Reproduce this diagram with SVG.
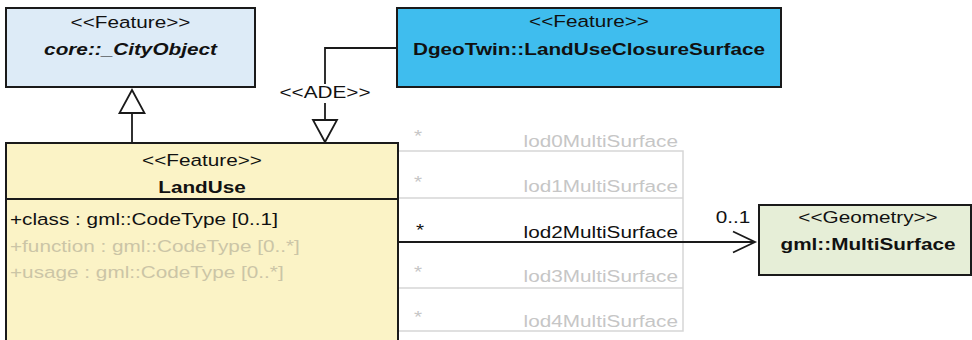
<svg xmlns="http://www.w3.org/2000/svg" width="972" height="340" viewBox="0 0 972 340">
  <style>
    text { font-family: "Liberation Sans", Arial, sans-serif; font-size: 17px; fill: #111; }
    .c { text-anchor: middle; }
    .e { text-anchor: end; }
    .b { font-weight: bold; }
    .bi { font-weight: bold; font-style: italic; }
    .dim { fill: #c6c6c6; }
    .dimy { fill: #cbc5a6; }
    .box { stroke: #1a1a1a; stroke-width: 2; }
    .edge { fill: none; stroke: #1a1a1a; stroke-width: 1.8; }
    .faint { fill: none; stroke: #d6d6d6; stroke-width: 1.5; }
  </style>
  <rect width="972" height="340" fill="#ffffff"/>

  <g id="connectors">
    <!-- generalization LandUse -> core::_CityObject -->
    <line class="edge" x1="132" y1="113" x2="132" y2="143"/>
    <polygon class="edge" fill="#ffffff" points="132,90 119.5,113 144.5,113"/>
    <!-- ADE extension -->
    <polyline class="edge" points="397,48 325,48 325,84"/>
    <line class="edge" x1="325" y1="103" x2="325" y2="120"/>
    <polygon class="edge" fill="#ffffff" points="313,120 337,120 325,142"/>
    <text class="c" transform="translate(325 98) scale(1.22 1)">&lt;&lt;ADE&gt;&gt;</text>
    <!-- inactive geometry associations -->
    <polyline class="faint" points="399,151 683,151 683,331 399,331"/>
    <line class="faint" x1="399" y1="198" x2="683" y2="198"/>
    <line class="faint" x1="399" y1="288" x2="683" y2="288"/>
    <text class="c dim" transform="translate(418 142) scale(1.22 1)">*</text>
    <text class="e dim" transform="translate(678 147) scale(1.22 1)">lod0MultiSurface</text>
    <text class="c dim" transform="translate(418 188) scale(1.22 1)">*</text>
    <text class="e dim" transform="translate(678 192) scale(1.22 1)">lod1MultiSurface</text>
    <text class="c dim" transform="translate(418 278) scale(1.22 1)">*</text>
    <text class="e dim" transform="translate(678 282) scale(1.22 1)">lod3MultiSurface</text>
    <text class="c dim" transform="translate(418 323) scale(1.22 1)">*</text>
    <text class="e dim" transform="translate(678 327) scale(1.22 1)">lod4MultiSurface</text>
    <!-- lod2 association -->
    <line class="edge" x1="399" y1="242" x2="755" y2="242"/>
    <polyline class="edge" points="733,231.5 755,242 733,252.5"/>
    <text class="c" transform="translate(420 236) scale(1.22 1)">*</text>
    <text class="e" transform="translate(678 238) scale(1.22 1)">lod2MultiSurface</text>
    <text class="c" transform="translate(733 223) scale(1.22 1)">0..1</text>
  </g>

  <g id="cityobject">
    <rect class="box" x="6" y="8" width="249" height="79" fill="#ddebf7"/>
    <text class="c" transform="translate(130.5 28) scale(1.22 1)">&lt;&lt;Feature&gt;&gt;</text>
    <text class="c bi" transform="translate(130.5 55) scale(1.22 1)">core::_CityObject</text>
  </g>

  <g id="closuresurface">
    <rect class="box" x="397" y="8" width="384" height="79" fill="#3fbdee"/>
    <text class="c" transform="translate(589 27) scale(1.22 1)">&lt;&lt;Feature&gt;&gt;</text>
    <text class="c b" transform="translate(589 55) scale(1.22 1)">DgeoTwin::LandUseClosureSurface</text>
  </g>

  <g id="landuse">
    <rect class="box" x="6" y="143" width="392" height="210" fill="#fbf3c6"/>
    <line class="box" x1="6" y1="199" x2="398" y2="199"/>
    <text class="c" transform="translate(202 166) scale(1.22 1)">&lt;&lt;Feature&gt;&gt;</text>
    <text class="c b" transform="translate(202 193) scale(1.22 1)">LandUse</text>
    <text transform="translate(10 225) scale(1.22 1)">+class : gml::CodeType [0..1]</text>
    <text class="dimy" transform="translate(10 252) scale(1.22 1)">+function : gml::CodeType [0..*]</text>
    <text class="dimy" transform="translate(10 278) scale(1.22 1)">+usage : gml::CodeType [0..*]</text>
  </g>

  <g id="multisurface">
    <rect class="box" x="759" y="205" width="212" height="70" fill="#e6eed7"/>
    <text class="c" transform="translate(868 223) scale(1.22 1)">&lt;&lt;Geometry&gt;&gt;</text>
    <text class="c b" transform="translate(868 250) scale(1.22 1)">gml::MultiSurface</text>
  </g>
</svg>
